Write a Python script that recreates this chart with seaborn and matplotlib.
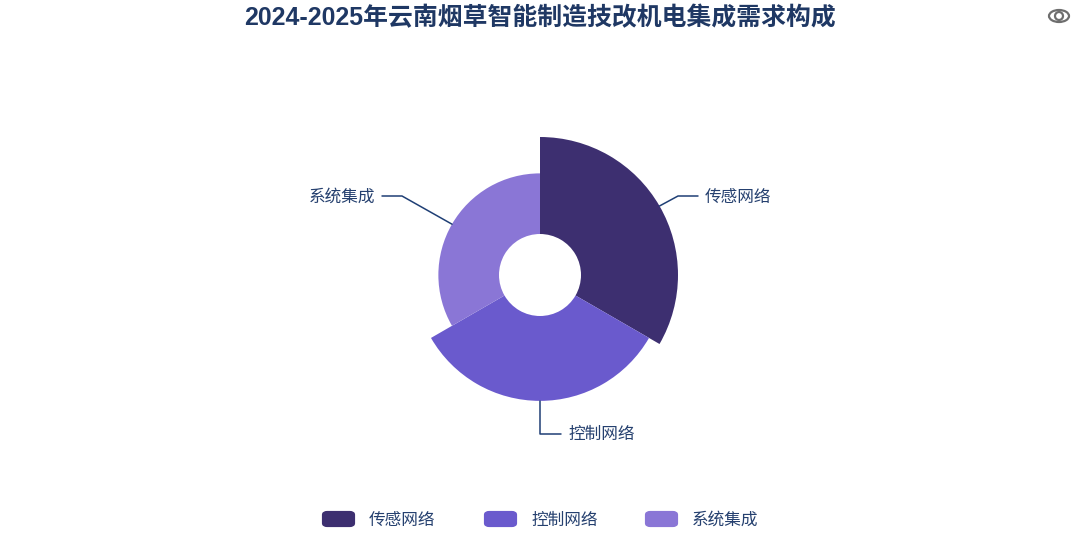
import numpy as np
import matplotlib
matplotlib.use("Agg")
import matplotlib.pyplot as plt
import seaborn as sns
from matplotlib.lines import Line2D
from matplotlib.patches import Ellipse, FancyBboxPatch

title = "2024-2025年云南烟草智能制造技改机电集成需求构成"
categories = ["传感网络", "控制网络", "系统集成"]
values = [40, 35, 25]
colors = ["#3D2F70", "#6A5ACD", "#8A76D6"]

text_color = "#25406F"
line_color = "#1F3F75"
W, H = 1080, 551

sns.set_theme(style="white")
plt.rcParams["font.family"] = ["Noto Sans CJK SC", "DejaVu Sans"]
title_font = ["Liberation Sans", "Noto Sans CJK SC"]


def px(x, y):
    # reference pixels to figure fraction
    return x / W, 1 - y / H


fig = plt.figure(figsize=(W / 100, H / 100), dpi=100)
ax = fig.add_axes([402 / W, (H - 413) / H, 276 / W, 276 / H], projection="polar")
ax.set_theta_zero_location("N")
ax.set_theta_direction(-1)

# rose chart: equal angles, radius from the value
step = 2 * np.pi / len(categories)
thetas = [step * (i + 0.5) for i in range(len(categories))]
sns.barplot(x=thetas, y=values, hue=categories, palette=colors, native_scale=True,
            width=1, dodge=False, legend=False, saturation=1, ax=ax)
for bar in ax.patches:
    bar.set_clip_on(False)
    bar.set_linewidth(0)
for line in list(ax.lines):
    line.remove()
ax.set_xlim(0, 2 * np.pi)
ax.set_ylim(0, max(values))
ax.set_rorigin(-max(values) * 41 / 97)
ax.set_axis_off()

fig.text(*px(540, 18), title, ha="center", va="center", fontsize=17.9,
         fontweight="bold", color="#1F3864", family=title_font)

# leader lines: elbow and label spots in reference pixels
leaders = [
    [(678, 196), (698, 196), (705, 197), "left"],
    [(540, 434), (561, 434), (568, 434), "left"],
    [(402, 196), (382, 196), (375, 197), "right"],
]
for theta, val, cat, (elbow, end, spot, align) in zip(thetas, values, categories, leaders):
    sx, sy = fig.transFigure.inverted().transform(ax.transData.transform((theta, val)))
    ex, ey = px(*elbow)
    tx, ty = px(*end)
    fig.add_artist(Line2D([sx, ex, tx], [sy, ey, ty], color=line_color, lw=1.1,
                          transform=fig.transFigure))
    fig.text(*px(*spot), cat, ha=align, va="center", fontsize=12, color=text_color)

# legend
legend_x = [322, 484, 645]
for x0, cat, col in zip(legend_x, categories, colors):
    fig.add_artist(FancyBboxPatch(px(x0 + 2, 527 - 2), 29 / W, 12 / H,
                                  boxstyle="round,pad=0,rounding_size=0.003",
                                  transform=fig.transFigure, fc=col, ec=col, lw=3,
                                  joinstyle="round"))
    fig.text(*px(x0 + 47, 520.5), cat, ha="left", va="center", fontsize=12, color=text_color)

# eye icon, top right
eye = "#6E6E6E"
fig.add_artist(Ellipse(px(1059, 16), 20 / W, 12 / H, transform=fig.transFigure,
                       fc="none", ec=eye, lw=1.6))
fig.add_artist(Ellipse(px(1059, 16), 8 / W, 8 / H, transform=fig.transFigure,
                       fc="none", ec=eye, lw=1.6))

fig.savefig("out.png", dpi=100, facecolor="white")
